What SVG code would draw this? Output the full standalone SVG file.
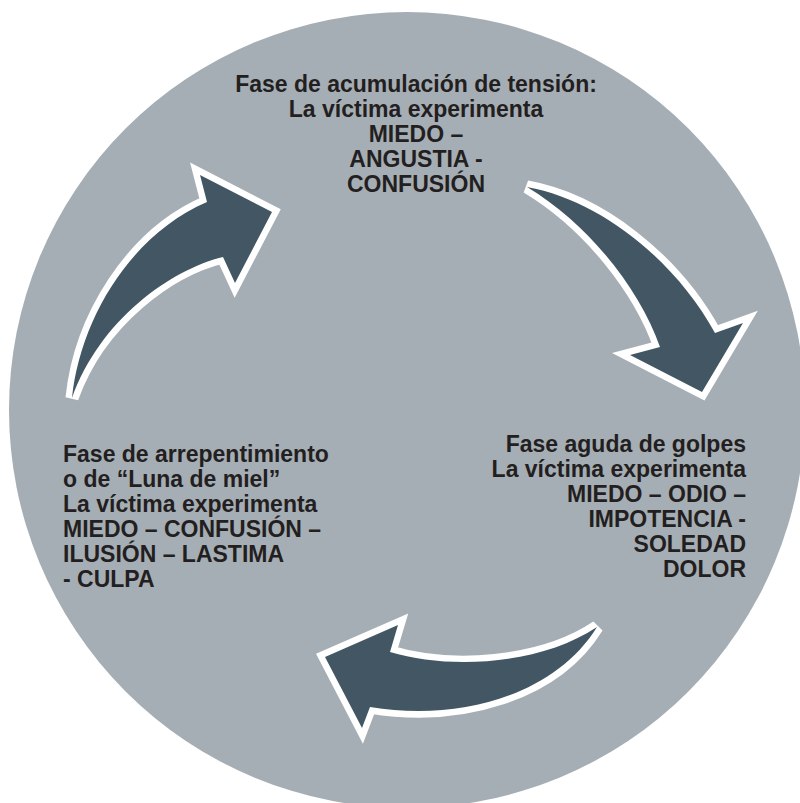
<svg xmlns="http://www.w3.org/2000/svg" width="800" height="803" viewBox="0 0 800 803">
<style>
.t{font-family:"Liberation Sans",Arial,sans-serif;font-weight:bold;font-size:23px;fill:#231f20}
.arr{fill:#425763;stroke:#ffffff;stroke-width:13;stroke-linejoin:miter;stroke-miterlimit:4;paint-order:stroke}
</style>
<rect width="800" height="803" fill="#ffffff"/>
<circle cx="407" cy="410" r="398" fill="#a6aeb5"/>
<g id="connectors">
<path class="arr" d="M527,187 C600,200 675,260 715,333 L743,323 L702,392 L630,355 L660,347 C640,290 590,225 527,187 Z"/>
<path class="arr" d="M597,627 C540,665 450,670 390,652 L398,625 L325,657 L362,728 L370,707 C460,722 555,695 597,627 Z"/>
<path class="arr" d="M72,398 C80,320 130,235 207,202 L200,175 L272,212 L235,283 L223,257 C170,270 100,320 72,398 Z"/>
</g>
<g id="node-tension">
<text class="t" text-anchor="middle"><tspan x="416" y="91.5">Fase de acumulación de tensión:</tspan><tspan x="416" y="116.5">La víctima experimenta</tspan><tspan x="416" y="141.5">MIEDO –</tspan><tspan x="416" y="166.5">ANGUSTIA -</tspan><tspan x="416" y="191.5">CONFUSIÓN</tspan></text>
</g>
<g id="node-aguda">
<text class="t" text-anchor="end"><tspan x="746" y="451.5">Fase aguda de golpes</tspan><tspan x="746" y="476.5">La víctima experimenta</tspan><tspan x="746" y="501.5">MIEDO – ODIO –</tspan><tspan x="746" y="526.5">IMPOTENCIA -</tspan><tspan x="746" y="551.5">SOLEDAD</tspan><tspan x="746" y="576.5">DOLOR</tspan></text>
</g>
<g id="node-arrepentimiento">
<text class="t"><tspan x="63" y="461.5">Fase de arrepentimiento</tspan><tspan x="63" y="486.5">o de “Luna de miel”</tspan><tspan x="63" y="511.5">La víctima experimenta</tspan><tspan x="63" y="536.5">MIEDO – CONFUSIÓN –</tspan><tspan x="63" y="561.5">ILUSIÓN – LASTIMA</tspan><tspan x="63" y="586.5">- CULPA</tspan></text>
</g>
</svg>
